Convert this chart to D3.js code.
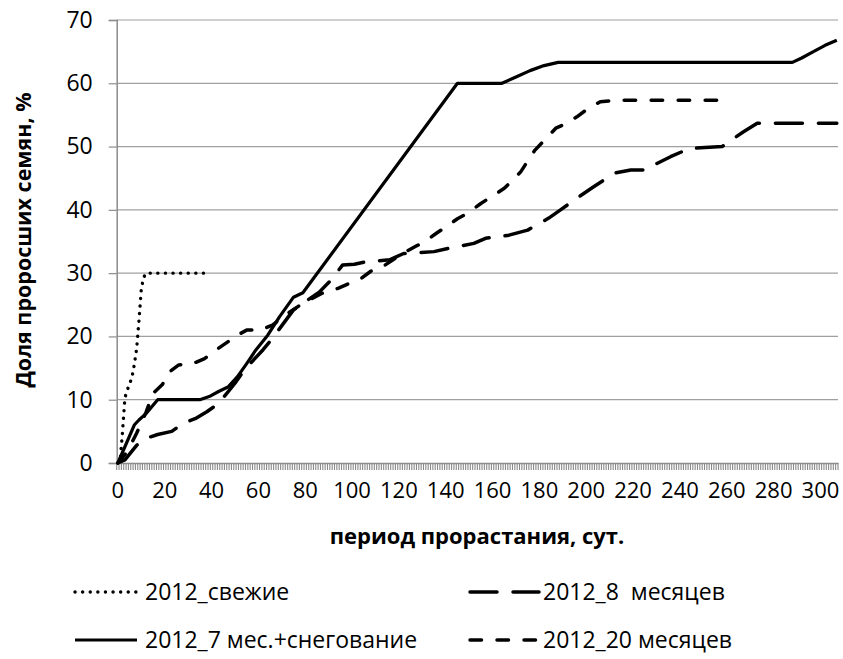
<!DOCTYPE html>
<html>
<head>
<meta charset="utf-8">
<script src="https://cdn.jsdelivr.net/npm/d3@7"></script>
<style>
  body { margin: 0; background: #fff; }
  text { font-family: "Open Sans", "Noto Sans", sans-serif; fill: #000; }
</style>
</head>
<body>
<div id="chart"></div>
<script>
// days 0..307 on a category axis
var days = d3.range(0, 308);
var xTickLabels = d3.range(0, 301, 20);
var yTickLabels = [0, 10, 20, 30, 40, 50, 60, 70];

var seriesNames = ["2012_свежие", "2012_8  месяцев", "2012_7 мес.+снегование", "2012_20 месяцев"];

// [day, % germinated]
var fresh = [[0,0],[1,0.5],[2,5],[3,10.3],[4,11.5],[5,12.5],[6,13.5],[7,15.5],[8,18],[9,22.5],[10,27.5],[11,29.3],[12,30],[37,30]];

var months8 = [[0,0],[3,0.5],[8,2.8],[12,3.9],[17,4.5],[23,5],[28,6.3],[33,7],[38,8.1],[43,9.4],[50,12.6],[54,14.7],[62,17.9],[66,19.7],[75,24.2],[80,25.5],[86,27],[91,28.9],[96,31.3],[101,31.4],[106,31.8],[116,32.1],[122,33.1],[135,33.4],[141,33.9],[152,34.7],[157,35.5],[167,36],[175,36.8],[184,38.7],[189,40],[197,42.1],[203,43.6],[212,45.8],[219,46.3],[226,46.3],[229,47.1],[236,48.4],[244,49.7],[258,50],[261,50.8],[267,52.3],[273,53.7],[307,53.7]];

var snow7 = [[0,0],[7,6],[9,6.8],[12,7.8],[17,10],[35,10],[39,10.5],[43,11.3],[47,12],[51,13.6],[55,15.7],[59,17.9],[64,20.2],[69,23.1],[75,26.2],[79,26.9],[145,60],[164,60],[170,61],[176,62],[182,62.8],[188,63.3],[288,63.3],[292,64],[297,65],[302,66],[307,66.8]];

var months20 = [[0,0],[4,1.8],[8,4.7],[12,8],[15,11],[19,12.4],[22,14.4],[26,15.5],[32,15.7],[37,16.5],[42,17.9],[46,18.9],[51,20.2],[55,21],[61,21],[66,21.8],[72,23.5],[78,25],[87,26.8],[94,27.6],[99,28.4],[104,29.2],[108,30.3],[113,31],[117,32],[122,33.2],[127,34.2],[131,35],[136,36.3],[140,37.3],[145,38.6],[149,39.4],[155,41],[165,43.4],[172,46],[178,49.4],[187,52.9],[190,53.4],[196,54.7],[200,55.8],[206,57.1],[212,57.3],[257,57.3]];

var width = 843, height = 659;
var plotL = 116.7, plotR = 838, plotT = 20, plotB = 463;

var svg = d3.select("#chart")
    .append("svg")
    .attr("width", width)
    .attr("height", height);

var x = d3.scaleBand().domain(days).range([plotL, plotR]);
var y = d3.scaleLinear().domain([0, 70]).range([plotB, plotT]);
var cx = function(d) { return x(d) + x.bandwidth() / 2; };

// gridlines
svg.append("g")
    .selectAll("line")
    .data(yTickLabels.slice(1))
    .enter().append("line")
    .attr("x1", plotL).attr("x2", plotR)
    .attr("y1", d => y(d)).attr("y2", d => y(d))
    .style("stroke", "#a0a0a0")
    .style("stroke-width", 1.2);

// y axis
var yAxis = svg.append("g")
    .attr("transform", "translate(" + plotL + ",0)")
    .call(d3.axisLeft(y).tickValues(yTickLabels).tickSize(8).tickPadding(16));
yAxis.select(".domain").style("stroke", "#8c8c8c").style("stroke-width", 1.5);
yAxis.selectAll(".tick line").style("stroke", "#8c8c8c").style("stroke-width", 1.2);
yAxis.selectAll("text").style("font-size", "23px").style("font-family", "Open Sans");

// x axis: tick mark between every category, label every 20 days
svg.append("g")
    .selectAll("line")
    .data(d3.range(0, days.length + 1))
    .enter().append("line")
    .attr("x1", d => plotL + d * x.bandwidth())
    .attr("x2", d => plotL + d * x.bandwidth())
    .attr("y1", plotB).attr("y2", plotB + 7)
    .style("stroke", "#8a8a8a")
    .style("stroke-width", 1.1);

var xAxis = svg.append("g")
    .attr("transform", "translate(0," + plotB + ")")
    .call(d3.axisBottom(x).tickValues(xTickLabels).tickSize(0).tickPadding(19));
xAxis.select(".domain").style("stroke", "#8c8c8c").style("stroke-width", 1.5);
xAxis.selectAll("text").style("font-size", "22px").style("font-family", "Open Sans");

// axis titles
svg.append("text")
    .attr("x", 477).attr("y", 544)
    .attr("text-anchor", "middle")
    .style("font-size", "22px").style("font-weight", "bold")
    .text("период прорастания, сут.");

svg.append("text")
    .attr("transform", "translate(31,240) rotate(-90)")
    .attr("text-anchor", "middle")
    .style("font-size", "21.5px").style("font-weight", "bold")
    .text("Доля проросших семян, %");

// series
var line = d3.line().x(d => cx(d[0])).y(d => y(d[1]));

var styles = [
    { data: fresh, dash: "0.1 7.5", w: 3.4, cap: "round" },
    { data: months8, dash: "27 16", w: 3.5, cap: "round" },
    { data: snow7, dash: null, w: 3.2, cap: "butt" },
    { data: months20, dash: "11.5 15.5", w: 3.5, cap: "round" }
];

svg.append("g")
    .selectAll("path")
    .data(styles)
    .enter().append("path")
    .attr("d", d => line(d.data))
    .style("fill", "none")
    .style("stroke", "#000")
    .style("stroke-width", d => d.w)
    .style("stroke-linecap", d => d.cap)
    .style("stroke-linejoin", "round")
    .style("stroke-dasharray", d => d.dash);

// legend
var legendPos = [[75, 592], [468, 592], [75, 640], [468, 640]];
var lg = svg.append("g")
    .selectAll("g")
    .data(styles)
    .enter().append("g")
    .attr("transform", (d, i) => "translate(" + legendPos[i][0] + "," + legendPos[i][1] + ")");

lg.append("line")
    .attr("x1", (d, i) => i % 2 ? 2 : 0).attr("x2", (d, i) => i % 2 ? 71 : 62)
    .attr("y1", 0).attr("y2", 0)
    .style("stroke", "#000")
    .style("stroke-width", d => d.w)
    .style("stroke-linecap", d => d.cap)
    .style("stroke-dasharray", d => d.dash);

lg.append("text")
    .attr("x", (d, i) => i % 2 ? 75 : 70)
    .attr("y", 0)
    .attr("dy", "0.35em")
    .style("font-size", "23px")
    .style("white-space", "pre")
    .text((d, i) => seriesNames[i]);
</script>
</body>
</html>
